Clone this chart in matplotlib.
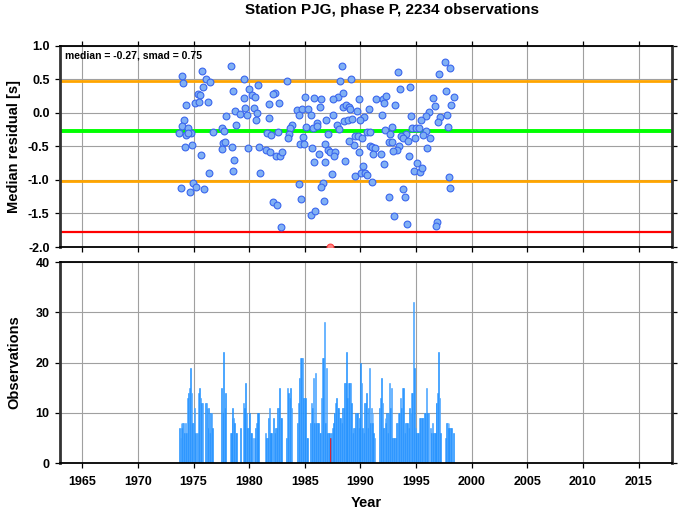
import matplotlib
matplotlib.use('Agg')
import matplotlib.pyplot as plt
import numpy as np

plt.rcParams['font.family'] = ['Liberation Sans', 'DejaVu Sans']
plt.rcParams['font.weight'] = 'bold'
plt.rcParams['axes.unicode_minus'] = False

median = -0.27
smad = 0.75

# monthly median residuals (year, seconds)
res_t = [1973.94, 1975.76, 1978.37, 1976.12, 1974.03, 1976.49, 1975.82, 1978.52, 1979.54, 1975.43,
         1975.61, 1975.16, 1975.49, 1976.27, 1974.30, 1979.51, 1977.95, 1978.76, 1979.18, 1979.62,
         1974.15, 1978.85, 1973.97, 1974.48, 1973.73, 1974.33, 1974.75, 1974.54, 1976.73, 1977.56,
         1977.77, 1974.24, 1974.87, 1977.68, 1977.83, 1977.53, 1978.46, 1975.64, 1978.67, 1978.58,
         1976.37, 1974.93, 1973.85, 1974.69, 1975.19, 1975.91,
         1983.43, 1980.77, 1980.02, 1982.30, 1982.18, 1980.23, 1980.56, 1981.82, 1982.66, 1985.00,
         1985.79, 1980.44, 1980.68, 1979.78, 1980.62, 1981.76, 1984.34, 1984.76, 1985.30, 1984.46,
         1985.54, 1983.83, 1983.68, 1985.12, 1985.72, 1981.64, 1982.00, 1982.60, 1983.62, 1983.52,
         1984.88, 1979.91, 1980.92, 1981.49, 1981.91, 1982.39, 1982.78, 1982.93, 1984.61, 1984.94,
         1985.68, 1985.84, 1980.98, 1984.52, 1984.67, 1982.12, 1982.48, 1985.58, 1985.88, 1982.84,
         1988.33, 1988.15, 1989.16, 1987.97, 1988.39, 1987.49, 1986.43, 1989.91, 1991.41, 1992.07,
         1988.45, 1988.72, 1989.01, 1989.10, 1986.37, 1987.55, 1986.94, 1989.73, 1990.33, 1990.76,
         1991.92, 1992.10, 1988.54, 1988.90, 1989.22, 1989.97, 1986.07, 1986.13, 1987.88, 1988.06,
         1987.04, 1989.55, 1989.76, 1990.15, 1990.57, 1990.88, 1992.25, 1986.79, 1987.12, 1987.27,
         1987.70, 1987.64, 1986.31, 1986.85, 1988.63, 1989.40, 1989.85, 1990.82, 1991.03, 1991.32,
         1991.15, 1991.83, 1992.13, 1988.97, 1987.40, 1989.49, 1990.03, 1990.21, 1990.45, 1990.63,
         1991.00, 1986.61, 1986.49, 1986.70,
         1997.58, 1998.01, 1997.07, 1993.39, 1993.51, 1994.47, 1992.28, 1993.12, 1997.67, 1998.40,
         1996.48, 1996.66, 1998.16, 1994.54, 1996.15, 1995.85, 1995.43, 1997.16, 1996.98, 1997.77,
         1997.86, 1992.85, 1992.67, 1994.65, 1994.95, 1995.22, 1995.90, 1995.58, 1996.24, 1994.08,
         1993.61, 1993.82, 1994.29, 1994.89, 1992.55, 1992.79, 1993.45, 1993.27, 1992.91, 1995.97,
         1994.35, 1995.07, 1994.77, 1995.31, 1995.55, 1997.92, 1998.07, 1993.78, 1992.61, 1994.01,
         1993.00, 1994.19, 1996.92, 1996.80]
res_v = [0.55, 0.63, 0.70, 0.51, 0.45, 0.46, 0.39, 0.32, 0.51, 0.28,
         0.27, 0.15, 0.16, 0.16, 0.11, 0.22, -0.05, 0.02, -0.02, 0.07,
         -0.10, -0.18, -0.20, -0.22, -0.30, -0.33, -0.30, -0.30, -0.29, -0.23,
         -0.27, -0.51, -0.48, -0.45, -0.44, -0.54, -0.51, -0.63, -0.71, -0.86,
         -0.90, -1.05, -1.12, -1.18, -1.10, -1.13,
         0.47, 0.42, 0.36, 0.30, 0.28, 0.27, 0.23, 0.13, 0.14, 0.24,
         0.22, 0.07, 0.00, -0.03, -0.11, -0.08, 0.04, 0.06, 0.06, -0.04,
         -0.03, -0.18, -0.22, -0.21, -0.23, -0.30, -0.33, -0.28, -0.32, -0.38,
         -0.36, -0.53, -0.51, -0.55, -0.58, -0.64, -0.64, -0.58, -0.46, -0.47,
         -0.53, -0.73, -0.90, -1.06, -1.28, -1.33, -1.37, -1.53, -1.47, -1.70,
         0.69, 0.48, 0.51, 0.24, 0.30, 0.20, 0.20, 0.20, 0.20, 0.21,
         0.08, 0.11, 0.08, 0.06, 0.08, -0.04, -0.10, 0.02, -0.06, 0.05,
         -0.04, 0.15, -0.12, -0.10, -0.09, -0.11, -0.15, -0.20, -0.18, -0.24,
         -0.31, -0.34, -0.34, -0.38, -0.28, -0.28, -0.26, -0.46, -0.55, -0.58,
         -0.58, -0.65, -0.62, -0.73, -0.72, -0.48, -0.59, -0.49, -0.51, -0.53,
         -0.61, -0.61, -0.77, -0.42, -0.91, -0.94, -0.89, -0.79, -0.89, -0.93,
         -1.03, -1.05, -1.11, -1.31,
         0.75, 0.67, 0.58, 0.61, 0.35, 0.38, 0.25, 0.12, 0.33, 0.23,
         0.22, 0.10, 0.11, -0.05, 0.01, -0.05, -0.11, -0.07, -0.14, -0.03,
         -0.21, -0.21, -0.31, -0.22, -0.22, -0.22, -0.27, -0.33, -0.37, -0.31,
         -0.34, -0.37, -0.42, -0.38, -0.44, -0.43, -0.49, -0.55, -0.57, -0.53,
         -0.64, -0.75, -0.87, -0.88, -0.83, -0.96, -1.12, -1.13, -1.25, -1.26,
         -1.54, -1.66, -1.63, -1.69]

# month outside the plotted range (drawn at the lower limit)
out_t = [1987.29]
out_v = [-2.0]

# monthly observation counts, Jan..Dec
bar_years = list(range(1973, 1999))
counts = [
    [0, 0, 0, 0, 0, 0, 0, 0, 7, 5, 8, 7],
    [8, 8, 6, 8, 6, 13, 14, 15, 19, 14, 8, 8],
    [8, 11, 6, 0, 6, 14, 15, 13, 12, 12, 0, 0],
    [12, 12, 11, 7, 11, 6, 10, 10, 7, 0, 0, 0],
    [0, 0, 0, 0, 0, 0, 15, 10, 22, 11, 14, 0],
    [0, 0, 0, 6, 6, 9, 11, 9, 8, 6, 6, 0],
    [0, 0, 7, 0, 0, 12, 11, 10, 16, 10, 7, 7],
    [10, 6, 6, 5, 0, 5, 7, 8, 10, 8, 10, 0],
    [0, 0, 0, 0, 0, 6, 5, 5, 9, 11, 6, 6],
    [6, 0, 9, 6, 7, 7, 11, 11, 15, 9, 9, 0],
    [0, 0, 0, 0, 5, 15, 14, 13, 15, 11, 0, 0],
    [0, 0, 0, 0, 8, 12, 17, 21, 21, 21, 13, 13],
    [13, 5, 5, 0, 0, 0, 8, 12, 11, 17, 8, 18],
    [8, 8, 8, 6, 6, 13, 13, 21, 21, 28, 8, 19],
    [6, 6, 6, 5, 6, 7, 8, 10, 10, 12, 13, 11],
    [11, 9, 9, 8, 11, 11, 16, 16, 22, 16, 13, 16],
    [16, 16, 12, 6, 7, 7, 10, 10, 10, 7, 9, 9],
    [20, 16, 7, 6, 12, 12, 14, 7, 11, 19, 8, 11],
    [8, 10, 6, 5, 0, 0, 0, 0, 11, 13, 17, 12],
    [7, 7, 9, 8, 10, 6, 10, 16, 11, 15, 5, 5],
    [5, 5, 8, 8, 8, 10, 10, 13, 11, 15, 15, 6],
    [8, 8, 8, 7, 11, 10, 10, 14, 14, 32, 19, 7],
    [6, 6, 6, 9, 9, 9, 9, 9, 10, 10, 10, 15],
    [10, 10, 0, 7, 6, 8, 6, 6, 6, 12, 12, 14],
    [22, 13, 6, 0, 0, 0, 0, 5, 8, 8, 7, 8],
    [7, 7, 7, 0, 6, 0, 0, 0, 0, 0, 0, 0],
]
red_month = (1987, 3)

fig = plt.figure(figsize=(6.78, 5.11), dpi=100)
ax1 = fig.add_axes([0.0885, 0.5166, 0.9027, 0.394])
ax2 = fig.add_axes([0.0885, 0.0939, 0.9027, 0.3933])

# top panel
ax1.axhline(median + smad, color='#ffa500', lw=2.0, zorder=2)
ax1.axhline(median - smad, color='#ffa500', lw=2.0, zorder=2)
ax1.axhline(median, color='#00ff00', lw=2.8, zorder=2)
ax1.axhline(median - 2 * smad, color='#ff0000', lw=1.6, zorder=2)
ax1.scatter(res_t, res_v, s=24, c='#80b0f4', edgecolors='#3a66ee', linewidths=0.8, zorder=3)
ax1.scatter(out_t, out_v, s=24, c='#ff8080', edgecolors='#ff4040', linewidths=0.8, zorder=3)
ax1.text(0.008, 0.978, 'median = %.2f, smad = %.2f' % (median, smad), transform=ax1.transAxes,
         fontsize=7.5, ha='left', va='top', zorder=5)
ax1.set_ylim(-2.0, 1.0)
ax1.set_yticks(np.arange(-2.0, 1.01, 0.5))
ax1.set_yticklabels(['%.1f' % v for v in np.arange(-2.0, 1.01, 0.5)])

# bottom panel
x_bar, h_bar, c_bar = [], [], []
for i, yr in enumerate(bar_years):
    for m in range(12):
        x_bar.append(yr + (m + 0.5) / 12.0)
        h_bar.append(counts[i][m])
        if (yr, m) == red_month:
            c_bar.append('#ff0000')
        elif m % 2 == 0:
            c_bar.append('#1e90ff')
        else:
            c_bar.append('#45a3ff')
ax2.bar(x_bar, h_bar, width=1 / 12.0, color=c_bar, edgecolor=c_bar, linewidth=0.4, zorder=2)
ax2.set_ylim(0, 40)
ax2.set_yticks([0, 10, 20, 30, 40])

for ax in (ax1, ax2):
    ax.set_xlim(1963, 2018)
    ax.set_xticks(range(1965, 2016, 5))
    ax.grid(True, color='#a0a0a0', lw=0.8, zorder=0)
    ax.set_axisbelow(True)
    for s in ('left', 'right'):
        ax.spines[s].set_linewidth(2.0)
        ax.spines[s].set_color('#333333')
    for s in ('top', 'bottom'):
        ax.spines[s].set_linewidth(1.3)
        ax.spines[s].set_color('black')
    ax.tick_params(direction='out', length=3.5, width=0.9, labelsize=9, right=True, pad=4)

ax1.tick_params(top=True, labelbottom=False)
ax2.tick_params(axis='x', pad=6)

fig.text(0.578, 0.980, 'Station PJG, phase P, 2234 observations', ha='center', va='center', fontsize=11)
fig.text(0.021, 0.714, 'Median residual [s]', rotation=90, ha='center', va='center', fontsize=10.5)
fig.text(0.021, 0.291, 'Observations', rotation=90, ha='center', va='center', fontsize=10.5)
fig.text(0.540, 0.016, 'Year', ha='center', va='center', fontsize=10.5)

plt.savefig('out.png', dpi=100)
